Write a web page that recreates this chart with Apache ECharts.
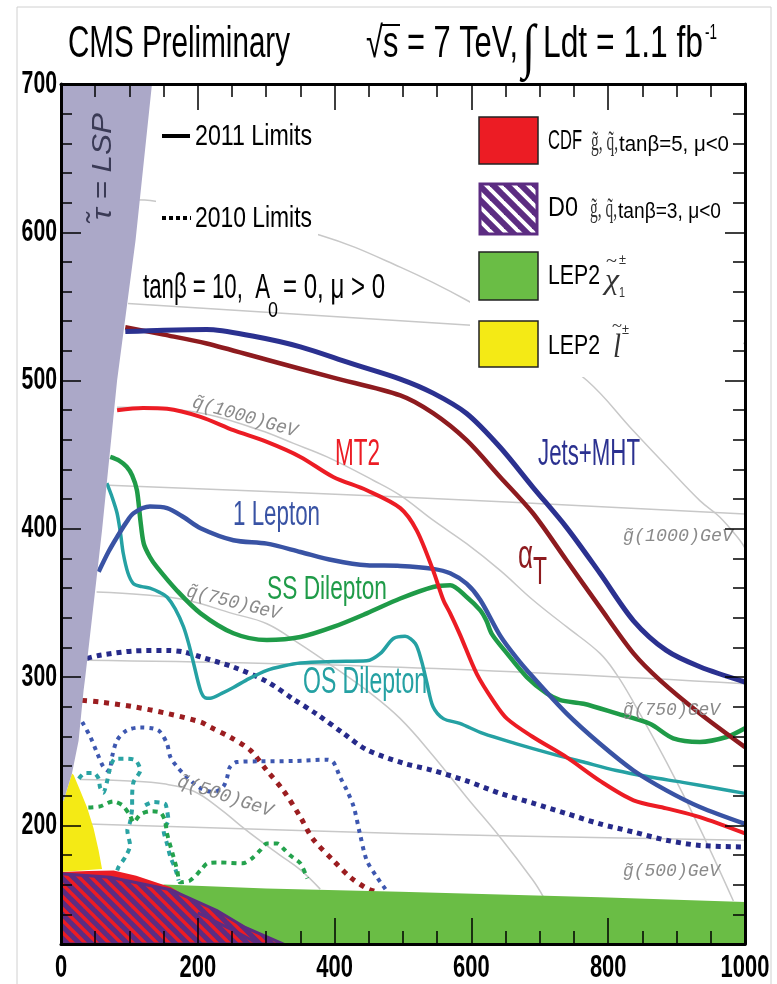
<!DOCTYPE html>
<html><head><meta charset="utf-8">
<script src="https://cdn.jsdelivr.net/npm/echarts@6/dist/echarts.min.js"></script>
<style>html,body{margin:0;padding:0;background:#fff}#c{width:777px;height:984px}</style>
</head><body><div id="c"></div>
<script>
// ---------------- DATA (m0 [GeV], m1/2 [GeV]) ----------------
const xTicks = [0, 200, 400, 600, 800, 1000];
const yTicks = [200, 300, 400, 500, 600, 700];

// 2011 limits (solid)
const jetsMHT = [[94,533],[150,534],[213,534.5],[280,530],[350,522.7],[423,511.7],[496,501],[544,491.5],[593,477.8],[642,455],[690,428],[739,401],[788,370],[837,338],[885,318],[934,307],[1000,296.7]];
const alphaT = [[94,536],[150,531],[213,525],[301,514],[398,502],[496,490],[544,478],[593,459.8],[642,435],[690,410.5],[739,378.8],[788,347],[837,316],[876,297.8],[934,275.5],[1000,252.8]];
const mt2 = [[82,480],[120,481.5],[155,481],[204,475.5],[252,466.5],[301,458.6],[350,448.5],[398,435],[447,426],[496,414],[520,399],[544,372],[559,352],[569,343],[583,329],[608,302],[632,284],[652,272],[690,259.6],[739,246],[788,230],[837,216.9],[885,211.5],[934,205.6],[1000,194.6]];
const oneLepton = [[55,371],[70,385],[82,394.5],[95,404],[106,410.5],[130,415],[155,414],[179,408],[204,400.4],[252,392.3],[301,390],[350,384.4],[398,378.8],[447,375.4],[496,375],[544,373],[569,370],[593,363],[613,352],[642,328],[666,313],[690,300],[739,275.5],[788,255],[837,237],[885,223.6],[934,212.4],[1000,201]];
const ssDilepton = [[72,448.5],[85,446],[96,441.8],[104,436],[111,426],[116,406],[121,390],[130,381],[140,374.3],[169,358.6],[204,343],[252,329.6],[301,325],[350,327],[398,333.8],[447,343],[496,353],[544,360.8],[569,362],[593,354],[613,345],[622,338],[630,329],[652,316],[681,300],[710,289],[730,284.5],[764,282],[812,275.5],[861,268.5],[895,258.7],[934,256.3],[973,259.6],[1000,265.5]];
const osDilepton = [[67,430.8],[75,421],[82,410.5],[87,397],[91,383.5],[98,370],[106,363],[118,361],[130,360],[145,357],[155,354],[167,346],[179,334],[187,322],[194,309],[204,291],[211,286],[218,285.7],[235,289],[252,293],[275,299],[301,304.6],[325,307.5],[350,309.5],[398,310.5],[447,311],[467,316],[486,326],[503,327.5],[518,322.6],[527,311],[535,296],[544,280],[559,272],[583,268.8],[617,262],[666,255],[715,248.6],[764,242.7],[812,237],[861,232.6],[909,229],[958,225],[1000,221.6]];

// 2010 limits (dotted)
const jetsMHT2010 = [[38,312.7],[57,314.7],[106,317.6],[155,318],[179,317],[204,313.6],[252,306.8],[301,297],[340,285],[374,275],[413,262],[447,251],[500,242],[544,237],[593,230],[642,221.6],[690,215],[739,208],[788,201],[837,195.5],[885,190],[934,186.5],[1000,185.4]];
const alphaT2010 = [[31,284.3],[57,283.2],[106,280],[155,275.5],[204,269.7],[218,266.3],[247,259.6],[277,250.6],[301,237],[325,223.6],[350,205.6],[368,191],[398,176.4],[423,165],[447,157.5],[462,155]];
const oneLepton2010 = [[31,269.7],[43,259.6],[53,248.6],[62,239.4],[70,236.5],[75,247],[82,257.4],[96,264],[116,266],[135,265.3],[145,263],[155,255],[160,246],[170,239.4],[184,232.6],[204,225],[223,222.5],[237,226],[243,232.6],[247,239.4],[257,242.7],[291,243.2],[340,243.4],[389,244.3],[398,242.7],[408,232.6],[418,223.6],[428,212.4],[437,194.4],[447,176.4],[462,165],[476,156]];
const osDilepton2010a = [[26,231.5],[35,235.3],[48,235.3],[55,231.5],[57,225.8],[62,222],[67,229],[72,239],[79,245],[94,245],[109,243.9],[116,237.1],[106,229.2],[104,219.1],[104,212.3],[101,202.2],[97,196.6],[101,186.5],[94,178.6],[84,171.8],[79,165.1]];
const osDilepton2010b = [[123,213.5],[135,215.7],[152,214.6],[155,210.1],[157,203.4],[150,196.6],[155,187.6],[160,178.6],[167,170.8],[172,162.9]];
const ssDilepton2010 = [[40,212.1],[57,212.8],[76,216.2],[90,213.5],[101,206.7],[106,202],[116,207.4],[130,209.5],[145,208.8],[152,203.4],[155,194.6],[163,181.1],[170,169.6],[174,161.6],[189,162.9],[204,169.6],[214,174.4],[233,175],[266,174.4],[281,178.4],[291,183.1],[301,187.8],[316,187.8],[325,184.4],[335,179.8],[350,174.4],[360,164.2]];

// iso-mass contours
const sq1250 = [[103,622],[138,621],[250,611],[379,598],[496,576.5],[594,554],[680,530],[769,500],[836,466.5],[886,442],[934,419],[963,408],[993,392],[1000,387]];
const sq1000 = [[82,482],[194,479],[291,466.5],[340,457.6],[389,448.5],[457,432.6],[496,422.5],[544,405.8],[593,390],[642,372],[690,352],[739,334],[788,316],[812,302],[837,283],[886,242],[934,198],[983,149]];
const sq750 = [[52,357.4],[120,355.5],[184,351.8],[250,343],[301,336],[350,322],[398,307],[450,290],[496,272],[544,247],[593,219],[642,192],[690,163],[705,152]];
const sq500 = [[28,231],[100,230],[150,228],[194,223],[233,211],[262,200],[290,190],[320,180],[350,170],[379,157]];
const gl1250 = [[98,552],[594,537.4],[1000,525]];
const gl1000 = [[70,429.4],[496,421.5],[1000,410]];
const gl750 = [[36,311.3],[496,306.6],[1000,295.5]];
const gl500 = [[4,201.5],[496,194.6],[1000,190]];

// excluded / forbidden regions
const lspRegion = [[0,700],[133,700],[109,594.7],[82,500],[60,399],[35.5,300],[33,291],[25.7,257],[16,235],[4,217],[0,214]];
const lepSlepton = [[0,214],[4,217],[16,235],[18.5,234],[28,223.6],[38,212.3],[47.6,198],[55,183],[60,170.5],[0,168.5]];
const cdfRegion = [[0,168.5],[40,169.2],[77,169.6],[110,166],[145,160.7],[160,158.4],[194,149.4],[243,138],[291,127],[318,120],[0,120]];
const d0Region = [[0,167.4],[72,165],[160,156.6],[228,142.6],[270,131],[325,120],[0,120]];
const d0Inner = [[200,141],[252,129.2],[291,119.5]];
const lepChargino = [[150,160.2],[300,157.5],[496,155.3],[788,151.6],[1000,148.3],[1000,120],[150,120]];

// ---------------- STYLE ----------------
const C = {
  navy:'#2b3190', darkred:'#8e1b1f', red:'#ec1c24', blue:'#3953a4', green:'#1f9b48', teal:'#25a1a3',
  dNavy:'#262a8a', dRed:'#9b1d20', dBlue:'#3d57b0', dTeal:'#2aa3a3', dGreen:'#24a24d',
  gray:'#c8c8c8', grayTxt:'#8a8a8a', lsp:'#aba8c8', yellow:'#f4ea15', lepGreen:'#6abd45', purple:'#5c2c82'
};

function stripes(size, width, color, bg) {
  const cv = document.createElement('canvas');
  cv.width = size; cv.height = size;
  const g = cv.getContext('2d');
  if (bg) { g.fillStyle = bg; g.fillRect(0,0,size,size); }
  g.strokeStyle = color; g.lineWidth = width; g.lineCap = 'square';
  for (let k = -1; k <= 1; k++) { g.beginPath(); g.moveTo(k*size, 0); g.lineTo(k*size + size, size); g.stroke(); }
  return { image: cv, repeat: 'repeat' };
}

function lineS(data, color, width, dash, smooth, z) {
  return { type:'line', data, showSymbol:false, symbol:'none', smooth: smooth === undefined ? 0.3 : smooth,
    lineStyle:{ color, width, type: dash || 'solid', cap:'butt', join:'round' },
    z: z || 2, silent:true, animation:false, xAxisIndex:0, yAxisIndex:0 };
}
function regionS(pts, fill, stroke, lw, z) {
  return { type:'custom', coordinateSystem:'cartesian2d', xAxisIndex:0, yAxisIndex:0, data: pts, z: z || 3,
    silent:true, animation:false, clip:true,
    renderItem: (params, api) => params.dataIndex !== 0 ? null : ({
      type:'polygon', shape:{ points: pts.map(p => api.coord(p)) },
      style:{ fill, stroke: stroke || null, lineWidth: lw || 0 } }) };
}

const mctx = document.createElement('canvas').getContext('2d');
function T(text, x, cy, size, width, color, o) {
  o = o || {};
  const family = o.family || "'Liberation Sans', Arial, sans-serif";
  const weight = o.weight || 'normal', fstyle = o.fstyle || 'normal';
  mctx.font = fstyle + ' ' + weight + ' ' + size + 'px ' + family;
  const w = mctx.measureText(text).width || 1;
  return { type:'text', x, y:cy, z: o.z || 20, rotation: o.rot || 0, scaleX: width / w,
    style:{ text, fontSize:size, fontFamily:family, fontWeight:weight, fontStyle:fstyle, fill:color, align: o.align || 'left', verticalAlign:'middle' } };
}
const mono = "'Liberation Mono', 'DejaVu Sans Mono', monospace";
const serif = "'Liberation Serif', 'DejaVu Serif', serif";
const deg = Math.PI / 180;

const graphics = [
  { type:'rect', shape:{x:17, y:7, width:754, height:990}, style:{fill:null, stroke:'#d0d0d0', lineWidth:1}, z:0 },
  { type:'rect', shape:{x:156, y:108, width:162, height:134}, style:{fill:'#fff'}, z:5 },
  { type:'rect', shape:{x:470, y:104, width:273, height:273}, style:{fill:'#fff'}, z:5 },
  // title
  T('CMS Preliminary', 68, 45, 44, 222, '#000'),
  T('√s = 7 TeV,', 366, 45, 44, 152, '#000'),
  { type:'line', shape:{x1:382, y1:25, x2:400, y2:25}, style:{stroke:'#000', lineWidth:2}, z:20 },
  T('∫', 522, 50, 60, 13, '#000', {family:serif}),
  T('Ldt = 1.1 fb', 543, 45, 44, 160, '#000'),
  T('-1', 705, 33, 22, 12, '#000'),
  // left legend
  { type:'line', shape:{x1:162, y1:136, x2:190, y2:136}, style:{stroke:'#000', lineWidth:4}, z:20 },
  T('2011 Limits', 195, 137, 30, 117, '#000'),
  { type:'line', shape:{x1:162, y1:218, x2:191, y2:218}, style:{stroke:'#000', lineWidth:4, lineDash:[4,3]}, z:20 },
  T('2010 Limits', 195, 219, 30, 117, '#000'),
  T('tanβ = 10,  A', 143, 288, 35, 127, '#000'),
  T('0', 268, 311, 22, 10, '#000'),
  T('= 0, μ > 0', 283, 288, 35, 102, '#000'),
  // right legend
  { type:'rect', shape:{x:479, y:117, width:59, height:47}, style:{fill:C.red, stroke:'#222', lineWidth:1.5}, z:20 },
  { type:'rect', shape:{x:480, y:184, width:57, height:50}, style:{fill:stripes(14, 6, C.purple, '#fff'), stroke:C.purple, lineWidth:3}, z:20 },
  { type:'rect', shape:{x:479, y:252, width:59, height:48}, style:{fill:C.lepGreen, stroke:'#222', lineWidth:1.5}, z:20 },
  { type:'rect', shape:{x:479, y:321, width:59, height:46}, style:{fill:C.yellow, stroke:'#222', lineWidth:1.5}, z:20 },
  T('CDF', 548, 141, 28, 34, '#000'),
  T('g̃, q̃,', 591, 143, 28, 27, '#333', {family:serif}),
  T('tanβ=5, μ<0', 619, 145, 22, 110, '#000'),
  T('D0', 548, 208, 28, 30, '#000'),
  T('g̃, q̃,', 590, 210, 28, 27, '#333', {family:serif}),
  T('tanβ=3, μ<0', 618, 212, 22, 103, '#000'),
  T('LEP2', 548, 276, 28, 52, '#000'),
  T('χ', 605, 281, 30, 14, '#333', {family:serif, fstyle:'italic'}),
  T('~', 606, 262, 18, 11, '#333', {family:serif}),
  T('±', 619, 260, 14, 7, '#333'),
  T('1', 619, 293, 15, 6, '#333'),
  T('LEP2', 548, 346, 28, 52, '#000'),
  T('l', 613, 348, 34, 8, '#333', {family:serif, fstyle:'italic'}),
  T('~', 612, 327, 16, 10, '#333', {family:serif}),
  T('±', 622, 330, 14, 7, '#333'),
  // LSP label
  T('τ̃ = LSP', 103, 220, 28, 107, '#3a3a55', {rot:90*deg, fstyle:'italic'}),
  // curve labels
  T('MT2', 335, 455, 37, 45, C.red),
  T('Jets+MHT', 538, 455, 37, 102, C.navy),
  T('1 Lepton', 233, 515, 35, 87, C.blue),
  T('SS Dilepton', 267, 590, 34, 120, C.green),
  T('OS Dilepton', 303, 683, 37, 124, C.teal),
  T('α', 518, 557, 40, 15, C.darkred),
  T('T', 533, 574, 38, 14, C.darkred),
  // iso-mass labels
  T('q̃(1000)GeV', 193, 402, 19, 108, C.grayTxt, {family:mono, fstyle:'italic', rot:-16*deg, z:4}),
  T('q̃(750)GeV', 187, 591, 19, 96, C.grayTxt, {family:mono, fstyle:'italic', rot:-14*deg, z:4}),
  T('q̃(500)GeV', 178, 781, 19, 99, C.grayTxt, {family:mono, fstyle:'italic', rot:-18*deg, z:4}),
  T('g̃(1000)GeV', 623, 536, 19, 110, C.grayTxt, {family:mono, fstyle:'italic', z:4}),
  T('g̃(750)GeV', 623, 710, 19, 97, C.grayTxt, {family:mono, fstyle:'italic', z:4}),
  T('g̃(500)GeV', 623, 871, 19, 97, C.grayTxt, {family:mono, fstyle:'italic', z:4})
];

const blk = {color:'#000', width:1.5};
function xAx(pos) {
  return { type:'value', position:pos, min:0, max:1000, interval:200, z:10,
    axisLine:{show:true, onZero:false, lineStyle:{color:'#000', width:3}},
    axisTick:{show:true, inside:true, length:26, lineStyle:blk},
    minorTick:{show:true, splitNumber:4, length:13, lineStyle:blk},
    splitLine:{show:false}, minorSplitLine:{show:false},
    axisLabel:{show:false, customValues:xTicks} };
}
function yAx(pos) {
  return { type:'value', position:pos, min:120, max:700, z:10,
    axisLine:{show:true, onZero:false, lineStyle:{color:'#000', width:3}},
    axisTick:{show:true, inside:true, length:20, lineStyle:blk, customValues:yTicks},
    splitLine:{show:false},
    axisLabel:{show:false, customValues:yTicks} };
}
function yMinor(pos, len) {
  return { type:'value', position:pos, min:120, max:700, interval:20, z:10,
    axisLine:{show:false, onZero:false}, axisTick:{show:true, inside:true, length:len, lineStyle:blk},
    splitLine:{show:false}, axisLabel:{show:false} };
}

const option = {
  backgroundColor:'#fff', animation:false,
  grid:{ left:61, right:32, top:84, bottom:40, containLabel:false, outerBoundsMode:'none' },
  xAxis:[ xAx('bottom'), xAx('top') ],
  yAxis:[ yAx('left'), yAx('right'), yMinor('left', 11), yMinor('right', 12) ],
  graphic: graphics,
  series:[
    lineS(sq1250, C.gray, 1.5, 'solid', 0.4, 1),
    lineS(sq1000, C.gray, 1.5, 'solid', 0.4, 1),
    lineS(sq750, C.gray, 1.5, 'solid', 0.4, 1),
    lineS(sq500, C.gray, 1.5, 'solid', 0.4, 1),
    lineS(gl1250, C.gray, 1.5, 'solid', 0.4, 1),
    lineS(gl1000, C.gray, 1.5, 'solid', 0.4, 1),
    lineS(gl750, C.gray, 1.5, 'solid', 0.4, 1),
    lineS(gl500, C.gray, 1.5, 'solid', 0.4, 1),
    lineS(jetsMHT2010, C.dNavy, 5, [5,5], 0.3),
    lineS(alphaT2010, C.dRed, 5, [5,6], 0.3),
    lineS(oneLepton2010, C.dBlue, 4, [4,5], 0.3),
    lineS(osDilepton2010a, C.dTeal, 4, [5,5], 0.25),
    lineS(osDilepton2010b, C.dTeal, 4, [5,5], 0.25),
    lineS(ssDilepton2010, C.dGreen, 4, [5,5], 0.25),
    lineS(osDilepton, C.teal, 3.5, 'solid', 0.3),
    lineS(ssDilepton, C.green, 4.5, 'solid', 0.3),
    lineS(oneLepton, C.blue, 4.5, 'solid', 0.3),
    lineS(mt2, C.red, 4, 'solid', 0.3),
    lineS(alphaT, C.darkred, 4.5, 'solid', 0.3),
    lineS(jetsMHT, C.navy, 5, 'solid', 0.3),
    regionS(lepChargino, C.lepGreen, null, 0, 3),
    regionS(cdfRegion, C.red, null, 0, 3),
    regionS(d0Region, stripes(12, 5, C.purple, null), C.purple, 3, 3),
    lineS(d0Inner, C.purple, 3, 'solid', 0, 3),
    regionS(lepSlepton, C.yellow, null, 0, 3),
    regionS(lspRegion, C.lsp, null, 0, 3)
  ]
};
const chart = echarts.init(document.getElementById('c'), null, {renderer:'canvas'});
chart.setOption(option);

// tick labels placed through the axes' own scales, drawn as condensed text
const tickLabels = [];
xTicks.forEach(v => {
  const px = chart.convertToPixel({xAxisIndex:0}, v);
  tickLabels.push(T(String(v), px, 968, 31, String(v).length * 12.2, '#000', {weight:'bold', align:'center'}));
});
yTicks.forEach(v => {
  const py = chart.convertToPixel({yAxisIndex:0}, v);
  tickLabels.push(T(String(v), 57, py, 31, String(v).length * 11.8, '#000', {weight:'bold', align:'right'}));
});
chart.setOption({ graphic: graphics.concat(tickLabels) });
</script></body></html>
